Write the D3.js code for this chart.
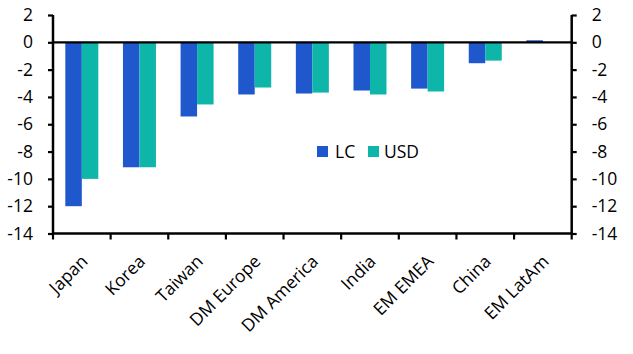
<!DOCTYPE html>
<html><head><meta charset="utf-8">
<script src="https://cdn.jsdelivr.net/npm/d3@7/dist/d3.min.js"></script>
<style>body{margin:0;background:#fff}svg text{font-family:"Open Sans","Noto Sans",sans-serif;font-size:17.5px;fill:#000}</style>
</head><body>
<script>
const categories = ["Japan","Korea","Taiwan","DM Europe","DM America","India","EM EMEA","China","EM LatAm"];
const lcValues  = [-12.0,-9.15,-5.43,-3.82,-3.75,-3.53,-3.39,-1.53,0.15];
const usdValues = [-10.0,-9.15,-4.55,-3.31,-3.68,-3.82,-3.60,-1.34,0.02];
const yTicks = [2,0,-2,-4,-6,-8,-10,-12,-14];
const seriesNames = ["LC","USD"];
const colors = ["#1f57cc","#0db6a8"];

const W=633,H=354, L=53, R=571.7, T=15, B=233.5;
const FS="17.5px";
const svg=d3.select("body").append("svg").attr("width",W).attr("height",H);
const x=d3.scaleBand().domain(categories).range([L,R]).paddingInner(0).paddingOuter(0);
const y=d3.scaleLinear().domain([-14,2]).range([B,T]);
const bw=16.5;
const series=[lcValues,usdValues];
series.forEach((vals,si)=>{
  svg.append("g").selectAll("rect").data(vals).join("rect")
    .attr("x",(d,i)=>x(categories[i])+x.bandwidth()/2-bw+si*bw)
    .attr("width",bw)
    .attr("y",d=>y(Math.max(0,d)))
    .attr("height",d=>Math.abs(y(d)-y(0)))
    .attr("fill",colors[si]);
});
svg.append("line").attr("x1",L).attr("x2",R).attr("y1",y(0)).attr("y2",y(0)).attr("stroke","#000").attr("stroke-width",2.2);
const fmt=d=>d<0?"-"+Math.abs(d):String(d);
const la=svg.append("g").attr("transform",`translate(${L},0)`).call(d3.axisLeft(y).tickValues(yTicks).tickSize(5).tickPadding(15).tickFormat(fmt));
const ra=svg.append("g").attr("transform",`translate(${R},0)`).call(d3.axisRight(y).tickValues(yTicks).tickSize(5).tickPadding(15).tickFormat(fmt));
const ba=svg.append("g").attr("transform",`translate(0,${B})`).call(d3.axisBottom(x).tickSize(5).tickFormat(""));
const bounds=categories.map(c=>x(c)).concat([R]);
ba.selectAll(".tick").remove();
ba.selectAll("line.bt").data(bounds).join("line").attr("class","bt").attr("x1",d=>d).attr("x2",d=>d).attr("y1",0).attr("y2",6).attr("stroke","#000").attr("stroke-width",2.2);
[la,ra,ba].forEach(g=>{g.select(".domain").attr("stroke","#000").attr("stroke-width",2.5);g.selectAll(".tick line").attr("stroke","#000").attr("stroke-width",2.2);g.selectAll("text").style("font-size",FS).attr("fill","#000");});
ba.select(".domain").attr("d",`M${L},0H${R}`);
la.select(".domain").attr("d",`M0,${T}V${B}`);
ra.select(".domain").attr("d",`M0,${T}V${B}`);
ra.selectAll("text").attr("x",20);
la.selectAll("text").attr("x",-20);
svg.append("g").selectAll("text").data(categories).join("text")
  .attr("text-anchor","end")
  .attr("transform",d=>`translate(${x(d)+x.bandwidth()/2+7},${B+29}) rotate(-45)`)
  .text(d=>d);
const lg=svg.append("g");
const lx=[317,368], tx=[335,384];
seriesNames.forEach((n,i)=>{
  lg.append("rect").attr("x",lx[i]).attr("y",146).attr("width",11).attr("height",11).attr("fill",colors[i]);
  lg.append("text").attr("x",tx[i]).attr("y",158).text(n);
});
</script>
</body></html>
